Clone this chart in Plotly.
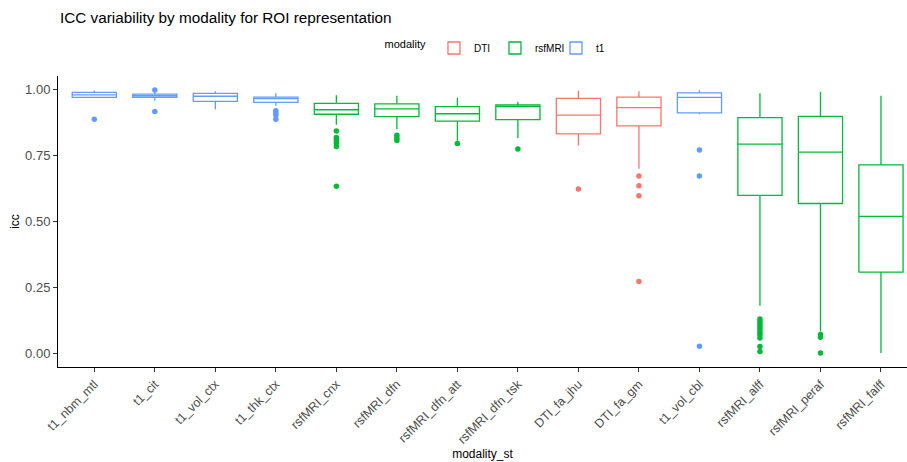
import plotly.graph_objects as go

categories = ["t1_nbm_mtl", "t1_cit", "t1_vol_ctx", "t1_thk_ctx", "rsfMRI_cnx", "rsfMRI_dfn",
              "rsfMRI_dfn_att", "rsfMRI_dfn_tsk", "DTI_fa_jhu", "DTI_fa_gm", "t1_vol_cbl",
              "rsfMRI_alff", "rsfMRI_peraf", "rsfMRI_falff"]

modality = ["t1", "t1", "t1", "t1", "rsfMRI", "rsfMRI", "rsfMRI", "rsfMRI", "DTI", "DTI", "t1",
            "rsfMRI", "rsfMRI", "rsfMRI"]

lower_whisker = [0.966, 0.956, 0.924, 0.937, 0.865, 0.848, 0.805, 0.815, 0.787, 0.699, 0.905, 0.182, 0.085, 0.003]
q1 = [0.969, 0.969, 0.954, 0.950, 0.905, 0.896, 0.879, 0.885, 0.831, 0.861, 0.910, 0.599, 0.568, 0.309]
median = [0.978, 0.975, 0.973, 0.964, 0.922, 0.925, 0.907, 0.934, 0.902, 0.930, 0.969, 0.792, 0.762, 0.519]
q3 = [0.988, 0.981, 0.984, 0.970, 0.946, 0.944, 0.934, 0.940, 0.965, 0.970, 0.986, 0.892, 0.897, 0.714]
upper_whisker = [0.995, 0.990, 0.992, 0.984, 0.977, 0.975, 0.967, 0.952, 0.994, 0.992, 0.996, 0.984, 0.990, 0.975]

outliers = {
    "t1_nbm_mtl": [0.886],
    "t1_cit": [0.997, 0.915],
    "t1_thk_ctx": [0.918, 0.910, 0.902, 0.886],
    "rsfMRI_cnx": [0.842, 0.817, 0.808, 0.796, 0.783, 0.633],
    "rsfMRI_dfn": [0.826, 0.815, 0.806],
    "rsfMRI_dfn_att": [0.795],
    "rsfMRI_dfn_tsk": [0.774],
    "DTI_fa_jhu": [0.623],
    "DTI_fa_gm": [0.672, 0.635, 0.597, 0.273],
    "t1_vol_cbl": [0.770, 0.672, 0.029],
    "rsfMRI_alff": [0.132, 0.122, 0.112, 0.102, 0.092, 0.082, 0.072, 0.060, 0.028, 0.009],
    "rsfMRI_peraf": [0.073, 0.063, 0.003],
}

y_ticks = [0.0, 0.25, 0.5, 0.75, 1.0]
y_tick_labels = ["0.00", "0.25", "0.50", "0.75", "1.00"]

colors = {"DTI": "#F8766D", "rsfMRI": "#00BA38", "t1": "#619CFF"}

fig = go.Figure()
for mod in ["DTI", "rsfMRI", "t1"]:
    idx = [i for i, m in enumerate(modality) if m == mod]
    fig.add_trace(go.Box(
        name=mod,
        x=[categories[i] for i in idx],
        q1=[q1[i] for i in idx],
        median=[median[i] for i in idx],
        q3=[q3[i] for i in idx],
        lowerfence=[lower_whisker[i] for i in idx],
        upperfence=[upper_whisker[i] for i in idx],
        boxpoints=False,
        whiskerwidth=0,
        fillcolor="white",
        line=dict(color=colors[mod], width=1.3),
        legendgroup=mod,
        hoverinfo="skip",
    ))
    ox, oy = [], []
    for i in idx:
        for v in outliers.get(categories[i], []):
            ox.append(categories[i])
            oy.append(v)
    fig.add_trace(go.Scatter(
        x=ox, y=oy, mode="markers",
        marker=dict(color=colors[mod], size=5.5),
        showlegend=False, legendgroup=mod, hoverinfo="skip",
    ))

fig.update_layout(
    width=907, height=462,
    margin=dict(l=58, r=0, t=76, b=95),
    plot_bgcolor="white", paper_bgcolor="white",
    font=dict(family="Liberation Sans, Arial, sans-serif", size=11, color="#000000"),
    title=dict(text="ICC variability by modality for ROI representation",
               x=60 / 907, xanchor="left", y=1 - 18 / 462, yanchor="middle",
               font=dict(size=15.3, color="#000000")),
    boxmode="overlay",
    boxgap=0.27,
    boxgroupgap=0,
    showlegend=True,
    legend=dict(orientation="h", xref="container", x=500 / 907, xanchor="center",
                yref="container", y=1 - 48 / 462, yanchor="middle",
                title=dict(text="modality", font=dict(size=11), side="left"),
                font=dict(size=10), itemwidth=30, entrywidth=16, entrywidthmode="pixels",
                tracegroupgap=0),
    xaxis=dict(
        type="category", categoryorder="array", categoryarray=categories,
        range=[-0.6, 13.43], automargin=False,
        showline=True, linecolor="#000000", linewidth=1,
        ticks="outside", ticklen=4, tickcolor="#333333",
        tickangle=-45, tickfont=dict(size=12.5, color="#4D4D4D"),
        showgrid=False, zeroline=False,
        title=dict(text="modality_st", font=dict(size=12), standoff=0),
    ),
    yaxis=dict(
        range=[-0.0495, 1.0495], automargin=False,
        tickvals=y_ticks, ticktext=y_tick_labels,
        showline=True, linecolor="#000000", linewidth=1,
        ticks="outside", ticklen=4, tickcolor="#333333",
        tickfont=dict(size=13, color="#4D4D4D"),
        showgrid=False, zeroline=False,
        title=dict(text="icc", font=dict(size=12), standoff=2),
    ),
)

fig.write_html("out.html", config={"displayModeBar": False},
               post_script="document.body.style.margin='0px';")
